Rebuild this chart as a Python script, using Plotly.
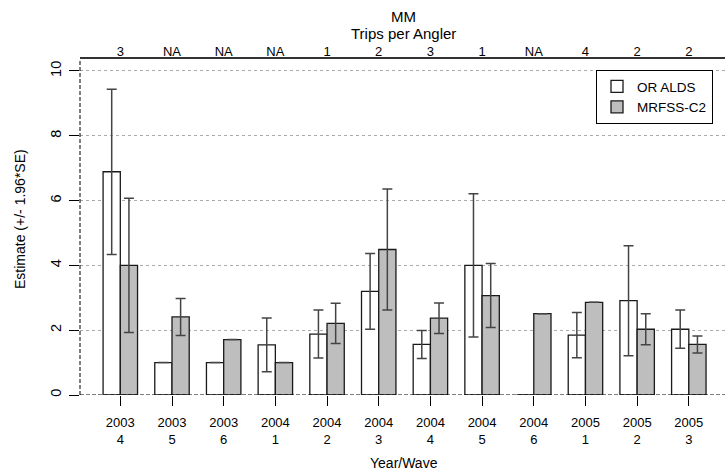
import plotly.graph_objects as go

# Year / wave categories
years = ["2003", "2003", "2003", "2004", "2004", "2004", "2004", "2004", "2004", "2005", "2005", "2005"]
waves = ["4", "5", "6", "1", "2", "3", "4", "5", "6", "1", "2", "3"]

# MM trips per angler shown along the top axis
trips_per_angler = ["3", "NA", "NA", "NA", "1", "2", "3", "1", "NA", "4", "2", "2"]

# Estimates and 1.96*SE half-widths
or_alds = [6.89, 1.0, 1.0, 1.55, 1.88, 3.2, 1.56, 4.0, 0.0, 1.85, 2.91, 2.03]
or_alds_ci = [2.55, 0, 0, 0.83, 0.74, 1.17, 0.43, 2.21, 0, 0.70, 1.70, 0.59]
mrfss_c2 = [4.0, 2.41, 1.71, 1.0, 2.21, 4.49, 2.37, 3.07, 2.51, 2.86, 2.03, 1.56]
mrfss_c2_ci = [2.07, 0.57, 0, 0, 0.62, 1.87, 0.47, 0.99, 0, 0, 0.48, 0.26]

y_ticks = [0, 2, 4, 6, 8, 10]

FONT = "Liberation Sans, Arial, Helvetica, sans-serif"
categories = [f"{y}<br>{w}" for y, w in zip(years, waves)]
positions = list(range(len(categories)))

W, H = 725, 473
ML, MR, MT, MB = 80, 0, 59, 78
plot_w = W - ML - MR
plot_h = H - MT - MB


def py(px):
    """Convert a pixel row to paper y."""
    return (H - MB - px) / plot_h


def px_x(px):
    """Convert a pixel column to paper x."""
    return (px - ML) / plot_w


err_style = dict(type="data", symmetric=True, color="#444444", thickness=1.5, width=5)

fig = go.Figure()
fig.add_trace(go.Bar(
    x=positions, y=or_alds, name="OR ALDS",
    marker=dict(color="white", line=dict(color="#1a1a1a", width=1.3)),
    error_y=dict(array=or_alds_ci, **err_style),
))
fig.add_trace(go.Bar(
    x=positions, y=mrfss_c2, name="MRFSS-C2",
    marker=dict(color="#bebebe", line=dict(color="#1a1a1a", width=1.3)),
    error_y=dict(array=mrfss_c2_ci, **err_style),
))
# Empty trace so the top (trips per angler) axis is rendered
fig.add_trace(go.Scatter(
    x=positions, y=[None] * len(positions), xaxis="x2", mode="markers",
    showlegend=False, hoverinfo="skip",
))

x_range = [-0.78, 11.7]

fig.update_layout(
    width=W, height=H,
    margin=dict(l=ML, r=MR, t=MT, b=MB, pad=0),
    paper_bgcolor="white", plot_bgcolor="white",
    font=dict(family=FONT, size=12, color="black"),
    barmode="group", bargap=1 / 3, bargroupgap=0,
    showlegend=True,
    legend=dict(
        x=px_x(596), y=py(70), xanchor="left", yanchor="top",
        bordercolor="black", borderwidth=1, bgcolor="white",
        font=dict(family=FONT, size=13.5, color="black"),
        itemwidth=30, tracegroupgap=0,
    ),
    xaxis=dict(
        range=x_range, tickmode="array", tickvals=positions, ticktext=categories,
        ticks="outside", ticklen=10, tickwidth=1, tickcolor="black",
        showline=False, showgrid=False, zeroline=False,
        tickfont=dict(size=13), ticklabelstandoff=5,
    ),
    xaxis2=dict(
        range=x_range, overlaying="x", side="top", anchor="y",
        tickmode="array", tickvals=positions, ticktext=trips_per_angler,
        ticks="", showline=True, linecolor="#333333", linewidth=1.5,
        showgrid=False, zeroline=False, tickfont=dict(size=13),
        ticklabelstandoff=-4,
    ),
    yaxis=dict(
        range=[0, 10.37], tickmode="array", tickvals=y_ticks,
        ticks="outside", ticklen=10, tickwidth=1, tickcolor="black",
        tickangle=-90, showline=False, zeroline=False,
        showgrid=True, gridcolor="#aaaaaa", gridwidth=1, griddash="3px,3px",
        tickfont=dict(size=14.5), ticklabelstandoff=2,
    ),
)

# Dashed frame on the left and along zero
fig.add_shape(type="line", xref="paper", yref="paper", x0=0, x1=0, y0=0, y1=1,
              line=dict(color="black", width=1, dash="4px,2px"))
fig.add_shape(type="line", xref="paper", yref="y", x0=0, x1=1, y0=0, y1=0,
              line=dict(color="black", width=1, dash="4px,2px"))

# Titles
fig.add_annotation(text="MM", xref="paper", yref="paper", x=0.502, y=py(16),
                   showarrow=False, font=dict(size=15), xanchor="center", yanchor="middle")
fig.add_annotation(text="Trips per Angler", xref="paper", yref="paper", x=0.502, y=py(33),
                   showarrow=False, font=dict(size=15), xanchor="center", yanchor="middle")
fig.add_annotation(text="Year/Wave", xref="paper", yref="paper", x=0.502, y=py(463),
                   showarrow=False, font=dict(size=14), xanchor="center", yanchor="middle")
fig.add_annotation(text="Estimate (+/- 1.96*SE)", xref="paper", yref="paper",
                   x=px_x(20), y=py(219), textangle=-90,
                   showarrow=False, font=dict(size=14), xanchor="center", yanchor="middle")

fig.write_html("out.html")
